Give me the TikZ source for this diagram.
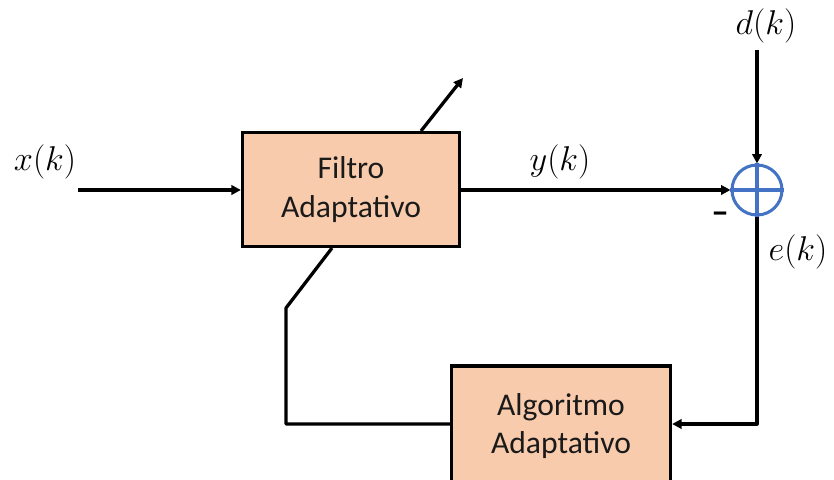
\documentclass[tikz,border=0pt]{standalone}
\usepackage{graphicx}
\usepackage{fontspec}
\newfontfamily\boxfont{Carlito}
\usetikzlibrary{arrows.meta}
\definecolor{peach}{HTML}{F8CBAD}
\definecolor{sumblue}{HTML}{4472C4}
\definecolor{ink}{HTML}{1A1A1A}
% signal names: math at the largest design size, enlarged
\newcommand{\sigtext}[1]{\scalebox{1.18}{\fontsize{24.88}{28}\selectfont$#1$}}
\begin{document}
\begin{tikzpicture}[x=0.03cm,y=-0.03cm,
  block/.style={draw=black, line width=2.8pt, fill=peach, align=center,
    text=ink, font=\boxfont\fontsize{27}{33}\selectfont, inner sep=0pt},
  summer/.style={circle, draw=sumblue, line width=2.6pt, minimum size=1.5cm, inner sep=0pt},
  wire/.style={line width=2.8pt, line join=round},
  arr/.style={wire, -{Triangle[length=8pt,width=8pt]}},
  lbl/.style={inner sep=0pt}]
\useasboundingbox (0,0) rectangle (834,480);
\clip (0,0) rectangle (834,480);

% blocks
\node[block, minimum width=6.51cm, minimum height=3.42cm] (filt) at (351,189.5)
  {Filtro\\Adaptativo};
\node[block, minimum width=6.57cm, minimum height=3.6cm] (alg) at (561,426)
  {Algoritmo\\Adaptativo};

% summing junction
\node[summer] (sum) at (757,190) {};
\draw[sumblue, line width=2.6pt] (sum.north) -- (sum.south) (sum.west) -- (sum.east);

% signal labels
\node[lbl] (xl) at (45,162) {\sigtext{x(k)}};
\node[lbl] (yl) at (560,162) {\sigtext{y(k)}};
\node[lbl] (dl) at (766,26) {\sigtext{d(k)}};
\node[lbl] (el) at (798,252) {\sigtext{e(k)}};
\node[font=\boxfont\bfseries\fontsize{30}{30}\selectfont, inner sep=0pt] (minus) at (720,218) {–};

% free ends and bends
\coordinate (xin) at (78,190);
\coordinate (din) at (757,50);
\coordinate (ecorner) at (757,424);
\coordinate (fbcorner) at (286,424);
\coordinate (fbbend) at (286,308);
\coordinate (adjlow) at (332,248);
\coordinate (adjhigh) at (421,131);
\coordinate (adjtip) at (463,78);

% connectors
\draw[arr] (xin) -- (filt.west |- xin);
\draw[arr] (filt.east |- xin) -- (sum.west);
\draw[arr] (din) -- (sum.north);
\draw[arr] (sum.south) -- (ecorner) -- (alg.east |- ecorner);
\draw[wire] (alg.west |- ecorner) -- (fbcorner) -- (fbbend) -- (adjlow);
\draw[arr] (adjhigh) -- (adjtip);
\end{tikzpicture}
\end{document}
